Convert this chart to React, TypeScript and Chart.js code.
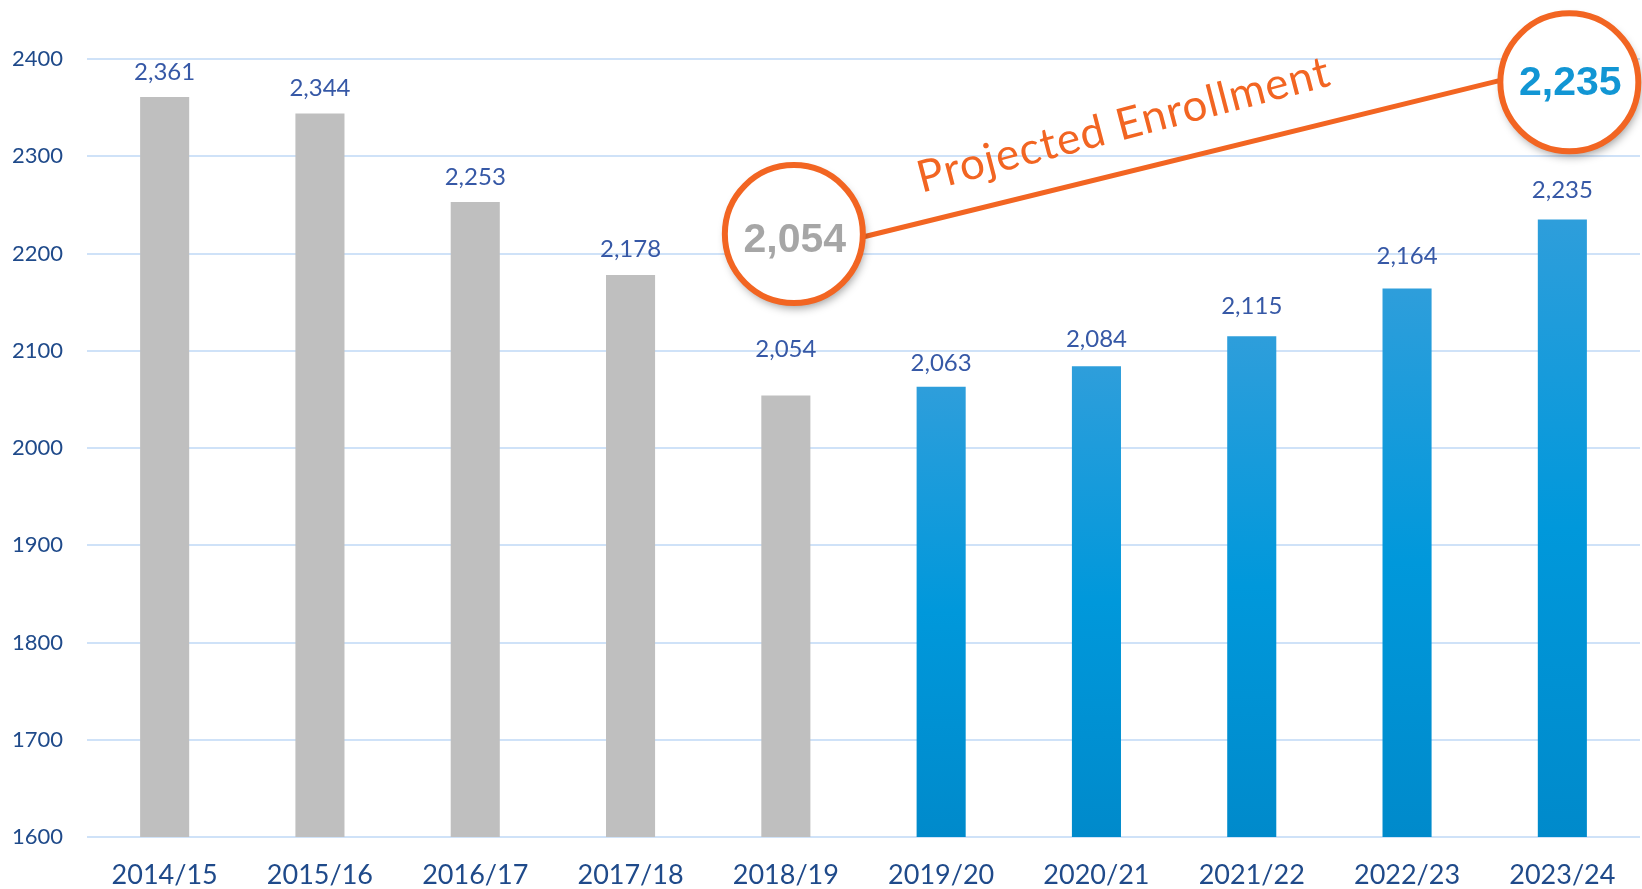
import React, { useEffect, useRef } from "react";
import { Chart, registerables } from "chart.js";

Chart.register(...registerables);

const categories = ["2014/15", "2015/16", "2016/17", "2017/18", "2018/19", "2019/20", "2020/21", "2021/22", "2022/23", "2023/24"];
const enrollment = [2361, 2344, 2253, 2178, 2054, 2063, 2084, 2115, 2164, 2235];
const projectedFrom = 5; // index where projection starts
const yMin = 1600;
const yMax = 2400;
const yStep = 100;
const annotationText = "Projected Enrollment";
const startCallout = { index: 4, value: 2054 };
const endCallout = { index: 9, value: 2235 };
// extra lift (px) of each value label above its bar, as placed in the original
const labelLift = [0, 0, 0, 1, 21, -1, 2, 5, 8, 4];

const fmt = (v: number) => v.toLocaleString("en-US");

const dataLabelPlugin = {
  id: "dataLabels",
  afterDatasetsDraw(chart: any) {
    const ctx = chart.ctx;
    const meta = chart.getDatasetMeta(0);
    ctx.save();
    ctx.font = "24px Lato";
    ctx.fillStyle = "#3658A6";
    ctx.textAlign = "center";
    ctx.textBaseline = "alphabetic";
    meta.data.forEach((bar: any, i: number) => {
      ctx.fillText(fmt(enrollment[i]), bar.x, bar.y - 17 - labelLift[i]);
    });
    ctx.restore();
  },
};

const calloutPlugin = {
  id: "callouts",
  afterDraw(chart: any) {
    const ctx = chart.ctx;
    const xs = chart.scales.x;
    const ys = chart.scales.y;
    const c1 = { x: xs.getPixelForValue(startCallout.index) + 8, y: ys.getPixelForValue(2220) };
    const c2 = { x: xs.getPixelForValue(endCallout.index) + 7, y: ys.getPixelForValue(2376) };
    const r = 69;
    const orange = "#F26522";

    // connecting line
    const p1 = { x: c1.x + r, y: c1.y + 3 };
    const p2 = { x: c2.x - r, y: c2.y - 2 };
    ctx.save();
    ctx.strokeStyle = orange;
    ctx.lineWidth = 5;
    ctx.beginPath();
    ctx.moveTo(p1.x, p1.y);
    ctx.lineTo(p2.x, p2.y);
    ctx.stroke();

    // text along line
    const ang = Math.atan2(p2.y - p1.y, p2.x - p1.x) - 0.015;
    ctx.translate(p1.x, p1.y);
    ctx.rotate(ang);
    ctx.fillStyle = orange;
    ctx.font = "44px Lato";
    try {
      (ctx as any).letterSpacing = "1px";
    } catch (e) {}
    ctx.textAlign = "left";
    ctx.textBaseline = "alphabetic";
    ctx.fillText(annotationText, 68, -28);
    ctx.restore();

    const drawCircle = (c: any, label: string, color: string, baseOff: number) => {
      ctx.save();
      ctx.shadowColor = "rgba(0,0,0,0.4)";
      ctx.shadowBlur = 10;
      ctx.shadowOffsetX = 2;
      ctx.shadowOffsetY = 5;
      ctx.beginPath();
      ctx.arc(c.x, c.y, r, 0, Math.PI * 2);
      ctx.fillStyle = "#FFFFFF";
      ctx.fill();
      ctx.shadowColor = "transparent";
      ctx.lineWidth = 6;
      ctx.strokeStyle = orange;
      ctx.stroke();
      ctx.fillStyle = color;
      ctx.font = "bold 41px 'Liberation Sans'";
      ctx.textAlign = "center";
      ctx.textBaseline = "alphabetic";
      ctx.fillText(label, c.x + 1, c.y + baseOff);
      ctx.restore();
    };
    drawCircle(c1, fmt(startCallout.value), "#A6A6A6", 18);
    drawCircle(c2, fmt(endCallout.value), "#1296D4", 13);
  },
};

export default function App() {
  const ref = useRef<HTMLCanvasElement | null>(null);

  useEffect(() => {
    if (!ref.current) return;
    const chart = new Chart(ref.current, {
      type: "bar",
      data: {
        labels: categories,
        datasets: [
          {
            data: enrollment,
            categoryPercentage: 1,
            barPercentage: 0.316,
            backgroundColor: (context: any) => {
              const i = context.dataIndex;
              if (i < projectedFrom) return "#BFBFBF";
              const c = context.chart;
              const area = c.chartArea;
              if (!area || !c.scales.y) return "#0098DA";
              const top = c.scales.y.getPixelForValue(enrollment[i]);
              const bottom = area.bottom;
              const g = c.ctx.createLinearGradient(0, top, 0, bottom);
              g.addColorStop(0, "#2E9EDB");
              g.addColorStop(0.5, "#0098DB");
              g.addColorStop(1, "#008ACB");
              return g;
            },
          },
        ],
      },
      options: {
        responsive: false,
        animation: false,
        layout: { padding: { left: 12, top: 59, right: 2, bottom: 0 } },
        plugins: { legend: { display: false }, tooltip: { enabled: false } },
        scales: {
          x: {
            grid: { display: false },
            border: { display: false },
            ticks: { font: { family: "Lato", size: 27 }, color: "#1F4A8A", padding: 14 },
            afterFit: (s: any) => {
              s.height = 52;
            },
          },
          y: {
            min: yMin,
            max: yMax,
            grid: { color: "#CFE2F8", lineWidth: 2, drawTicks: false },
            border: { display: false },
            ticks: {
              stepSize: yStep,
              crossAlign: "far",
              font: { family: "Lato", size: 22 },
              color: "#1F4A8A",
              callback: (v: any) => String(v),
            },
            afterFit: (s: any) => {
              s.width = 75;
            },
          },
        },
      },
      plugins: [dataLabelPlugin, calloutPlugin],
    });
    return () => chart.destroy();
  }, []);

  return (
    <div style={{ position: "fixed", left: 0, top: 0, width: 1642, height: 889, background: "#fff" }}>
      <canvas ref={ref} width={1642} height={889} style={{ display: "block" }} />
    </div>
  );
}
